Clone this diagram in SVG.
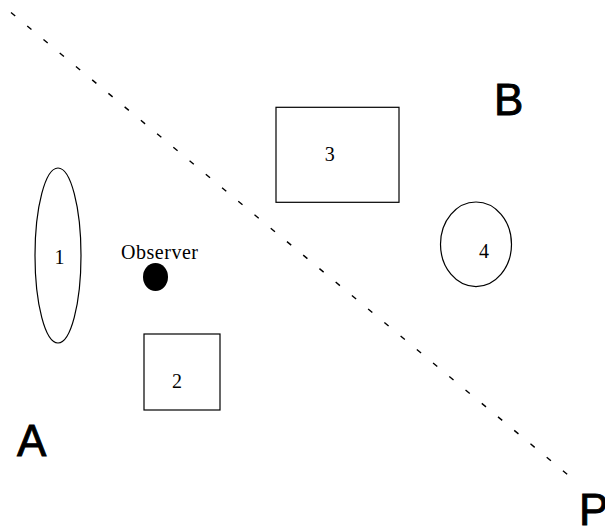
<svg xmlns="http://www.w3.org/2000/svg" width="605" height="527" viewBox="0 0 605 527">
<style>
.s{fill:none;stroke:#000;stroke-width:1.2}
.t{font-family:"Liberation Serif","Times New Roman",serif;font-size:20px;fill:#000}
.big{font-family:"Liberation Sans",Arial,sans-serif;font-size:44px;fill:#000;stroke:#000;stroke-width:0.9}
</style>
<rect width="605" height="527" fill="#fff"/>
<g id="connectors">
<line x1="11" y1="12.5" x2="568" y2="475" stroke="#000" stroke-width="1.4" stroke-dasharray="5.5 15.6"/>
</g>
<g id="node1"><ellipse class="s" cx="58" cy="255.5" rx="23" ry="87.5"/><text class="t" x="59.5" y="264" text-anchor="middle">1</text></g>
<g id="node2"><rect class="s" x="144" y="334" width="76" height="76"/><text class="t" x="177" y="388" text-anchor="middle">2</text></g>
<g id="node3"><rect class="s" x="276" y="107.3" width="123" height="95"/><text class="t" x="329.7" y="161" text-anchor="middle">3</text></g>
<g id="node4"><ellipse class="s" cx="476" cy="244.3" rx="35.5" ry="42.3"/><text class="t" x="484" y="258" text-anchor="middle">4</text></g>
<g id="observer"><text class="t" x="121" y="259" textLength="77">Observer</text><ellipse cx="155.5" cy="277" rx="12.5" ry="14" fill="#000"/></g>
<g id="labelA"><text class="big" x="17" y="456">A</text></g>
<g id="labelB"><text class="big" x="494" y="115">B</text></g>
<g id="labelP"><text class="big" x="579" y="525">P</text></g>
</svg>
